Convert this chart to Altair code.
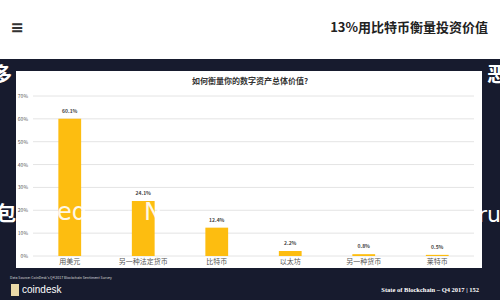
import altair as alt
import pandas as pd

categories = ["用美元", "另一种法定货币", "比特币", "以太坊", "另一种货币", "莱特币"]
values = [60.1, 24.1, 12.4, 2.2, 0.8, 0.5]
value_labels = ["60.1%", "24.1%", "12.4%", "2.2%", "0.8%", "0.5%"]
ticks = [0, 10, 20, 30, 40, 50, 60, 70]
tick_labels = ["0%", "10%", "20%", "30%", "40%", "50%", "60%", "70%"]

chart_title = "如何衡量你的数字资产总体价值?"
page_title = "13%用比特币衡量投资价值"
source_text = "Data Source: CoinDesk's Q4 2017 Blockchain Sentiment Survey"
footer_right = "State of Blockchain – Q4 2017    |    152"

NAVY = "#171b2e"
GOLD = "#fdbd10"
FONT = "Noto Sans CJK SC"

bars_df = pd.DataFrame({"cat": categories, "val": values, "lab": value_labels})
ticks_df = pd.DataFrame({"tick": ticks, "lab": tick_labels})
one = pd.DataFrame({"a": [0]})

xs = alt.Scale(domain=categories, range=[33, 474], paddingInner=0.69, paddingOuter=0.345)
ys = alt.Scale(domain=[0, 70], range=[256, 96])

X = alt.X("cat:N", scale=xs, axis=None, sort=categories)

def rect(x, x2, y, y2, color):
    return alt.Chart(one).mark_rect(color=color).encode(
        x=alt.value(x), x2=alt.value(x2), y=alt.value(y), y2=alt.value(y2))

def label(text, x, y, size, color, align="left", weight="normal", font=FONT, opacity=1):
    return alt.Chart(one).mark_text(
        text=text, align=align, baseline="middle", fontSize=size, color=color,
        fontWeight=weight, font=font, opacity=opacity
    ).encode(x=alt.value(x), y=alt.value(y))

header = rect(0, 500, 0, 59, "white")
panel = rect(16, 482, 71, 268, "white")

grid = alt.Chart(ticks_df).mark_rule(color="#e4e4e4", strokeWidth=1).encode(
    y=alt.Y("tick:Q", scale=ys, axis=None), x=alt.value(33), x2=alt.value(474))
ylabels = alt.Chart(ticks_df).mark_text(
    align="right", baseline="middle", fontSize=5, color="#555", font=FONT
).encode(y=alt.Y("tick:Q", scale=ys, axis=None), x=alt.value(28), text="lab:N")

bars = alt.Chart(bars_df).mark_bar(color=GOLD).encode(
    x=X, y=alt.Y("val:Q", scale=ys, axis=None), y2=alt.datum(0))
vlabels = alt.Chart(bars_df).mark_text(
    baseline="bottom", dy=-5, fontSize=5, color="#444", font=FONT, fontWeight="bold"
).encode(x=X, y=alt.Y("val:Q", scale=ys, axis=None), text="lab:N")
clabels = alt.Chart(bars_df).mark_text(
    baseline="middle", fontSize=7, color="#555", font=FONT
).encode(x=X, y=alt.value(262), text="cat:N")

layers = [
    header, panel, grid, bars, vlabels, clabels, ylabels,
    label(chart_title, 250, 82, 8, "#333", align="center", weight="bold"),
    label("≡", 17, 28, 16, "#333", align="center", weight="bold", font="DejaVu Sans"),
    label(page_title, 488, 28, 13, "#222", align="right", weight="bold"),
    label(source_text, 10, 278, 3.5, "#ddd"),
    rect(11, 19, 284, 296, "#e9d9a8"),
    label("coindesk", 22, 290, 10, "white", font="Liberation Sans"),
    label(footer_right, 479, 290, 6.5, "white", align="right", font="Liberation Serif", weight="bold"),
    label("ed", 57, 213, 24, "white", font="DejaVu Sans", opacity=0.9),
    label("N", 144, 213, 24, "white", font="DejaVu Sans", opacity=0.9),
    label("ru", 478, 215, 22, "white", font="DejaVu Sans"),
    label("恶", 497, 76, 20, "white", align="center", weight="bold"),
    label("包", 6, 215, 20, "white", align="center", weight="bold"),
    label("多", 2, 76, 20, "white", align="center", weight="bold"),
]

chart = alt.layer(*layers).properties(
    width=500, height=300, autosize="none", padding=0, background=NAVY
).configure_view(stroke=None)

chart.save("out.html", embed_options={"renderer": "svg", "actions": False})
